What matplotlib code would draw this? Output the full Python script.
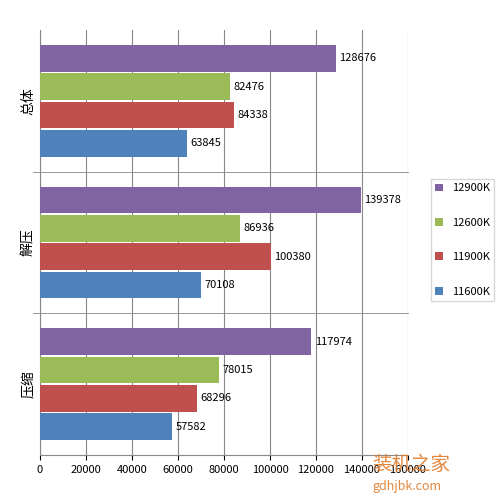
import matplotlib
matplotlib.use("Agg")
import matplotlib.pyplot as plt
import numpy as np

plt.rcParams['font.family'] = ['Noto Sans CJK SC', 'DejaVu Sans']

categories = ['压缩', '解压', '总体']
series = ['11600K', '11900K', '12600K', '12900K']
v11600 = [57582, 70108, 63845]
v11900 = [68296, 100380, 84338]
v12600 = [78015, 86936, 82476]
v12900 = [117974, 139378, 128676]
colors = ['#4F81BD', '#C0504D', '#9BBB59', '#8064A2']
ticks = list(range(0, 160001, 20000))

fig = plt.figure(figsize=(5, 5), dpi=100)
ax = fig.add_axes([0.08, 0.09, 0.736, 0.85])
y = np.arange(len(categories))
h = 0.19
vals = [v11600, v11900, v12600, v12900]
for i, (vs, c, s) in enumerate(zip(vals, colors, series)):
    pos = y + (i - 1.5) * (h + 0.01)
    bars = ax.barh(pos, vs, height=h, color=c, label=s, zorder=3)
    for b, v in zip(bars, vs):
        ax.text(v + 1500, b.get_y() + h / 2, str(v), va='center', ha='left', fontsize=8, zorder=4)

ax.set_xlim(0, 160000)
ax.set_ylim(-0.5, 2.5)
ax.set_xticks(ticks)
ax.set_xticklabels([str(t) for t in ticks], fontsize=8)
ax.set_yticks(y)
ax.set_yticklabels(categories, rotation=90, va='center', fontsize=10)
ax.tick_params(axis='y', length=0)
ax.grid(axis='x', color='#888888', lw=0.8, zorder=0)
for yy in [0.5, 1.5]:
    ax.axhline(yy, color='#888888', lw=0.6, xmin=-0.02, clip_on=False)
for s in ['top', 'right']:
    ax.spines[s].set_visible(False)
ax.spines['left'].set_color('#888888')
ax.spines['bottom'].set_color('#888888')

handles, labels = ax.get_legend_handles_labels()
fig.legend(handles[::-1], labels[::-1], loc='center', bbox_to_anchor=(0.925, 0.52),
           fontsize=8, frameon=True, edgecolor='#cccccc', fancybox=False,
           handlelength=0.7, handleheight=0.7, labelspacing=2.2)

fig.text(0.745, 0.072, '装机之家', color='#E07B2A', fontsize=14, ha='left', va='center', alpha=0.9)
fig.text(0.745, 0.027, 'gdhjbk.com', color='#E07B2A', fontsize=9, ha='left', va='center', alpha=0.9)
fig.savefig('out.png', dpi=100)
